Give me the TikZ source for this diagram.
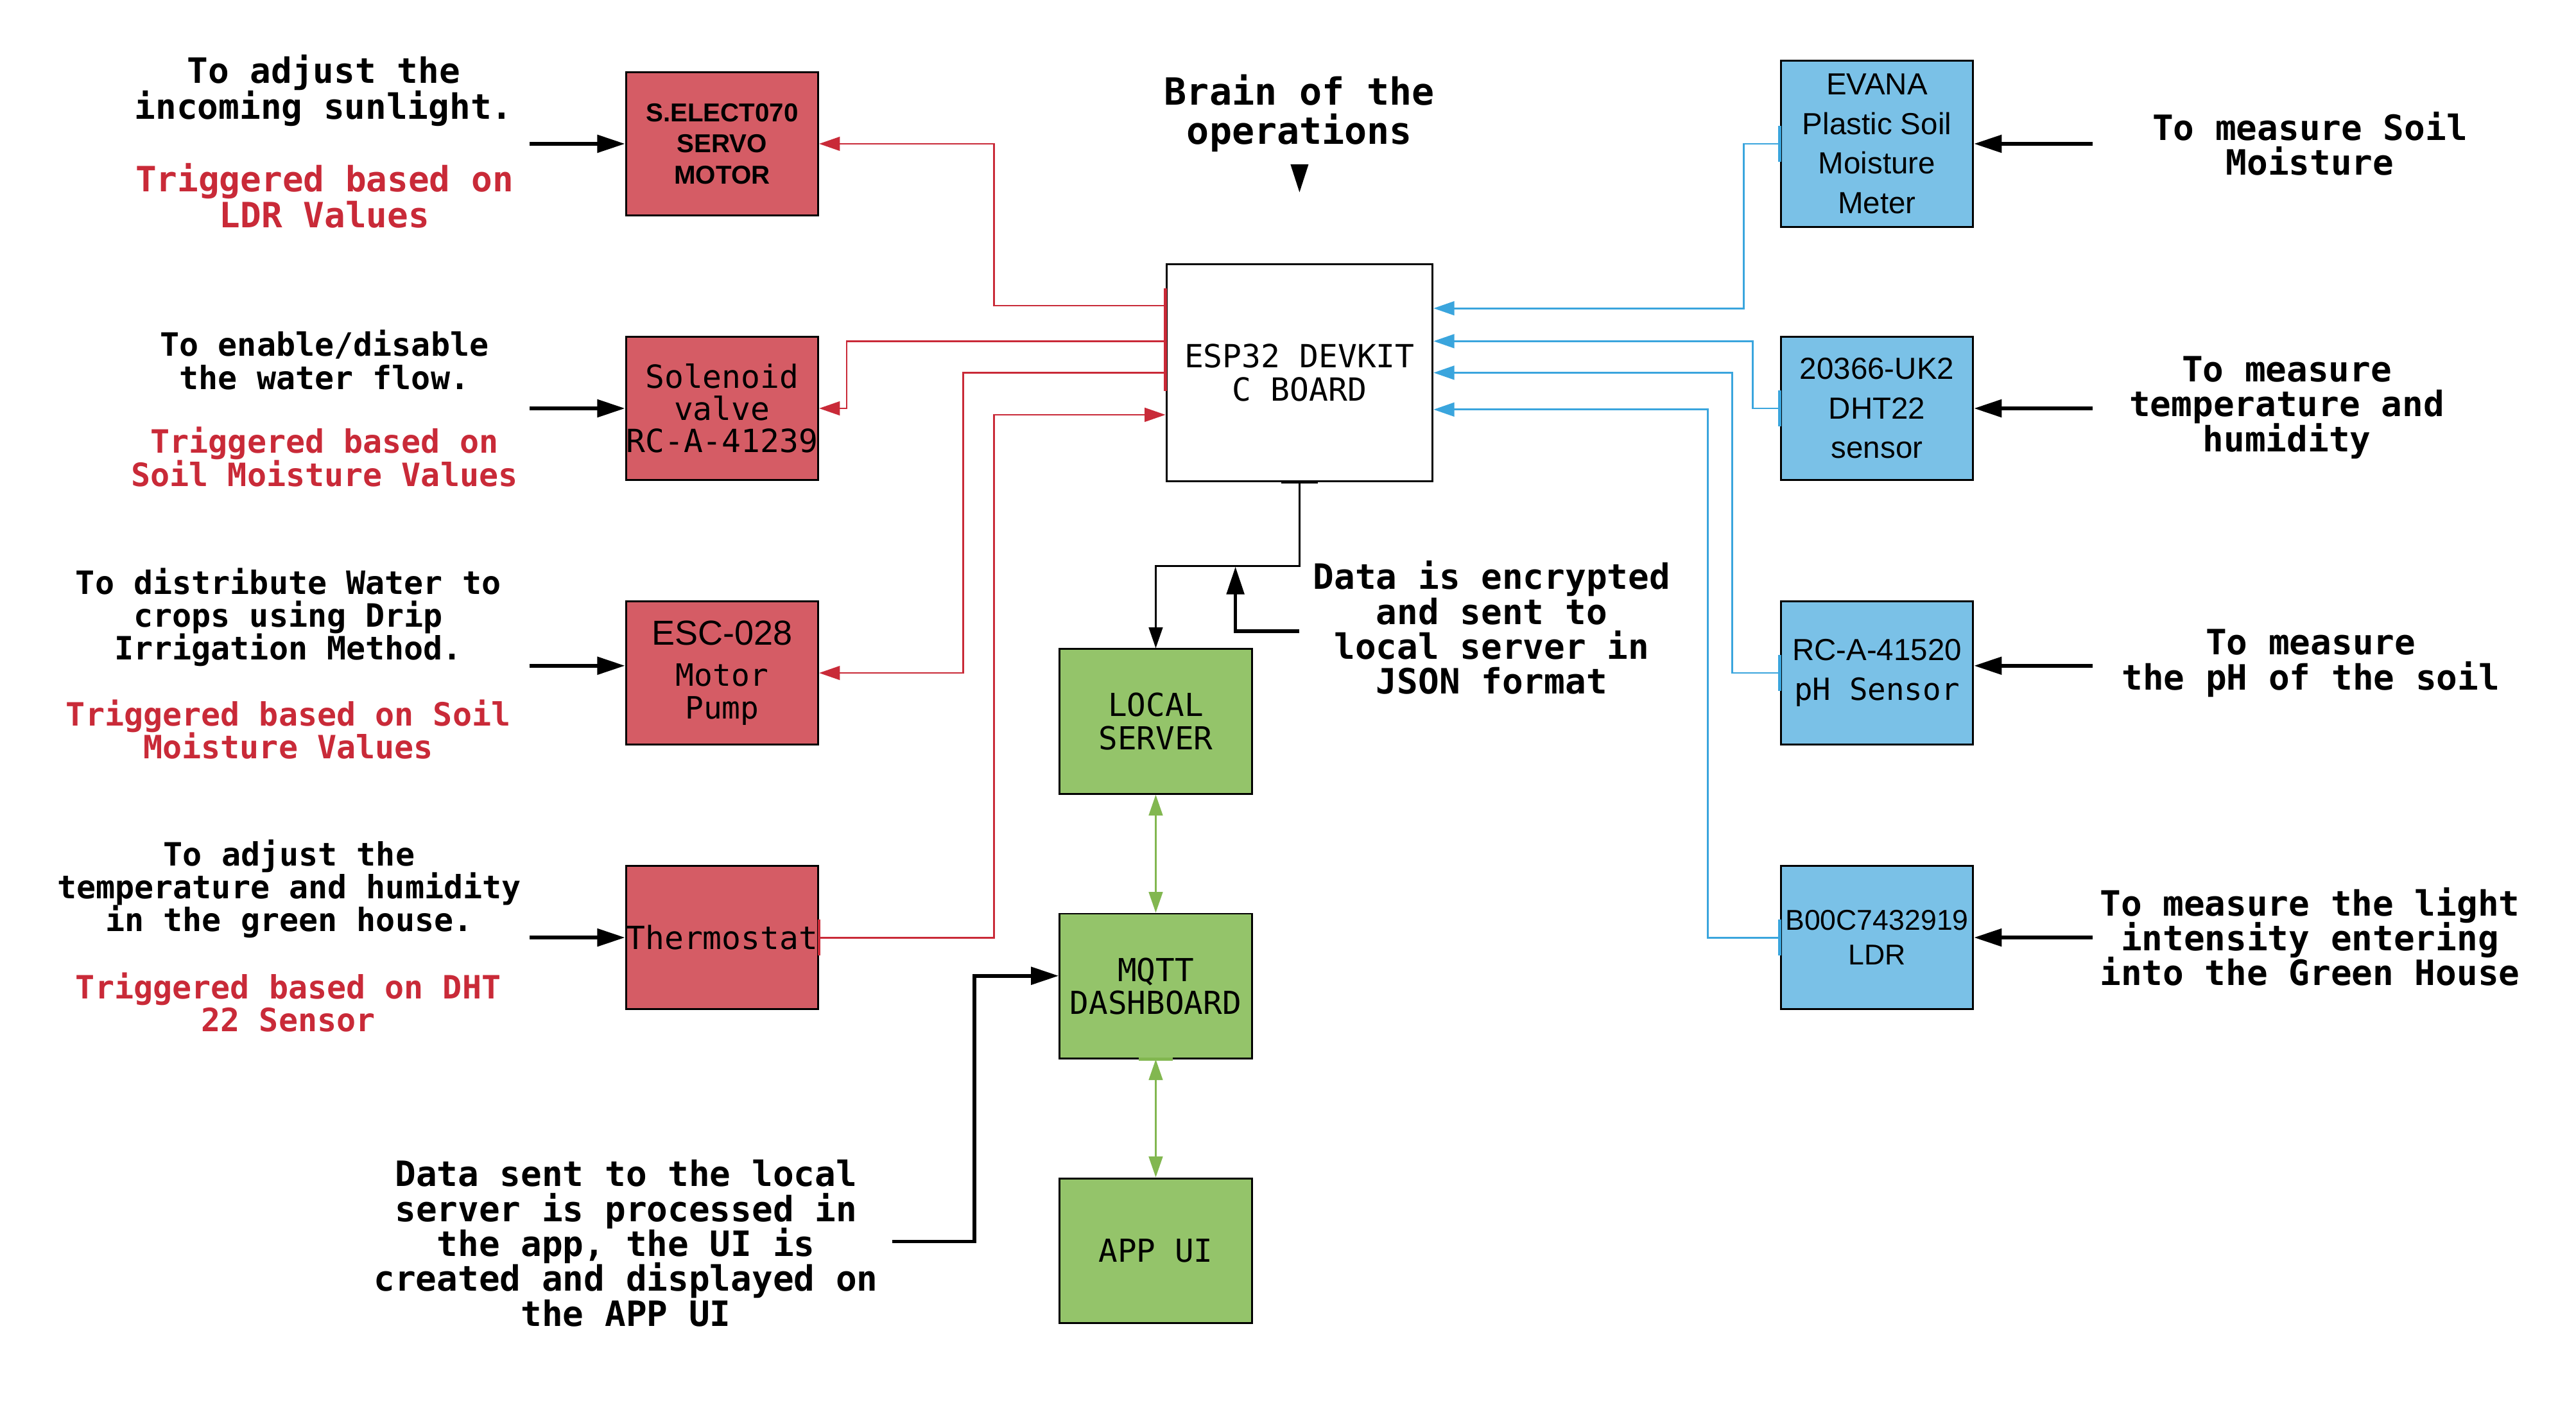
\documentclass[tikz,border=0pt]{standalone}
\usepackage{fontspec}
\setmainfont{DejaVu Sans Mono}
\setsansfont{Liberation Sans}
\setmonofont{DejaVu Sans Mono}
\usetikzlibrary{arrows.meta,positioning}
\definecolor{actred}{RGB}{213,92,101}
\definecolor{wirered}{RGB}{201,42,56}
\definecolor{sensblue}{RGB}{122,193,231}
\definecolor{wireblue}{RGB}{58,165,221}
\definecolor{netgreen}{RGB}{148,196,106}
\definecolor{wiregreen}{RGB}{130,183,80}
\newcommand\tightlines{\lineskiplimit=-100pt\relax}

\begin{document}
\begin{tikzpicture}[x=0.25mm, y=-0.25mm,
  every node/.append style={execute at begin node=\tightlines},
  box/.style={draw, line width=0.83pt, inner sep=0pt, align=center, minimum width=29.25mm, minimum height=21.75mm},
  actbox/.style={box, fill=actred, font=\ttfamily\fontsize{13.8}{13.9}\selectfont},
  sensbox/.style={box, fill=sensblue, font=\sffamily\fontsize{13.2}{17.1}\selectfont},
  netbox/.style={box, fill=netgreen, minimum height=22mm, font=\ttfamily\fontsize{13.7}{14.2}\selectfont},
  note/.style={align=center, inner sep=0pt, font=\ttfamily\bfseries\fontsize{15.1}{15.1}\selectfont},
  bignote/.style={note, font=\ttfamily\bfseries\fontsize{15.1}{15.6}\selectfont},
  smallnote/.style={note, font=\ttfamily\bfseries\fontsize{13.9}{14.2}\selectfont},
  trig/.style={text=wirered},
  wire/.style={line width=0.8pt, -{Triangle[length=9pt,width=6pt]}},
  link/.style={line width=0.8pt, wiregreen, {Triangle[length=9pt,width=6pt]}-{Triangle[length=9pt,width=6pt]}},
  fatarrow/.style={line width=1.6pt, -{Triangle[length=12pt,width=7.5pt]}},
  stub/.style={line width=1.3pt}]
  \useasboundingbox (0,0) rectangle (1568,853.4);

  % actuators
  \node[actbox, font=\sffamily\bfseries\fontsize{11.2}{13.5}\selectfont] (servo) at (439.5,87.5) {S.ELECT070\\SERVO\\MOTOR};
  \node[actbox] (valve) at (439.5,248.5) {Solenoid\\valve\\RC-A-41239};
  \node[actbox, font=\ttfamily\fontsize{13.3}{14.2}\selectfont] (pump) at (439.5,409.5) {{\sffamily\fontsize{15}{17}\selectfont ESC-028}\\[3.6pt]Motor\\Pump};
  \node[actbox] (thermo) at (439.5,570.5) {Thermostat};

  % sensors
  \node[sensbox, minimum height=25.25mm] (soil) at (1142.5,87.5) {EVANA\\Plastic Soil\\Moisture\\Meter};
  \node[sensbox] (dht) at (1142.5,248.5) {20366-UK2\\DHT22\\sensor};
  \node[sensbox] (ph) at (1142.5,409.5) {RC-A-41520\\{\ttfamily pH Sensor}};
  \node[sensbox, font=\sffamily\fontsize{12.4}{15}\selectfont] (ldr) at (1142.5,570.5) {B00C7432919\\LDR};

  \node[box, minimum width=40.5mm, minimum height=33mm, font=\ttfamily\fontsize{13.8}{14.2}\selectfont] (esp) at (791,226.8) {ESP32 DEVKIT\\C BOARD};

  \node[netbox] (server) at (703.5,439) {LOCAL\\SERVER};
  \node[netbox] (mqtt) at (703.5,600) {MQTT\\DASHBOARD};
  \node[netbox] (app) at (703.5,761) {APP UI};

  % notes
  \node[bignote] (sunnote) at (197,55) {To adjust the\\incoming sunlight.};
  \node[bignote, trig] (suntrig) at (197.5,119) {Triggered based on\\LDR Values};
  \node[smallnote] (flownote) at (197.5,219) {To enable/disable\\the water flow.};
  \node[smallnote, trig] (flowtrig) at (197.5,278) {Triggered based on\\Soil Moisture Values};
  \node[smallnote] (dripnote) at (175.5,375.5) {To distribute Water to\\crops using Drip\\Irrigation Method.};
  \node[smallnote, trig] (driptrig) at (175.5,444) {Triggered based on Soil\\Moisture Values};
  \node[smallnote] (climnote) at (176,541) {To adjust the\\temperature and humidity\\in the green house.};
  \node[smallnote, trig] (climtrig) at (175.5,610) {Triggered based on DHT\\22 Sensor};

  \node[note] (soilnote) at (1406,87.5) {To measure Soil\\Moisture};
  \node[note] (dhtnote) at (1392,248) {To measure\\temperature and\\humidity};
  \node[note] (phnote) at (1406.5,403.5) {To measure\\the pH of the soil};
  \node[note] (ldrnote) at (1406,570) {To measure the light\\intensity entering\\into the Green House};

  \node[note, font=\ttfamily\bfseries\fontsize{16.2}{17.1}\selectfont] (brain) at (791,69) {Brain of the\\operations};
  \node[note] (encnote) at (908,382) {Data is encrypted\\and sent to\\local server in\\JSON format};
  \node[note] (sentnote) at (381,756.5) {Data sent to the local\\server is processed in\\the app, the UI is\\created and displayed on\\the APP UI};

  \fill (785.5,100) -- (796.5,100) -- (791,117) -- cycle;

  % esp32 -> actuators
  \draw[wire, wirered] ([yshift=10.2mm]esp.west) -| ([xshift=26.6mm]servo.east) -- (servo.east);
  \draw[wire, wirered] ([yshift=4.8mm]esp.west) -| ([xshift=4.2mm]valve.east) -- (valve.east);
  \draw[wire, wirered] (esp.west) -| ([xshift=21.9mm]pump.east) -- (pump.east);
  \draw[wire, wirered] (thermo.east) -- ++(26.6mm,0) |- ([yshift=-6.4mm]esp.west);
  \draw[stub, wirered] ([yshift=12.8mm]esp.west) -- ([yshift=-2.8mm]esp.west);
  \draw[stub, wirered] ([yshift=2.75mm]thermo.east) -- ([yshift=-2.75mm]thermo.east);

  % sensors -> esp32
  \draw[wire, wireblue] (soil.west) -- ++(-5.5mm,0) |- ([yshift=9.8mm]esp.east);
  \draw[wire, wireblue] (dht.west) -- ++(-4.1mm,0) |- ([yshift=4.8mm]esp.east);
  \draw[wire, wireblue] (ph.west) -- ++(-7.25mm,0) |- (esp.east);
  \draw[wire, wireblue] (ldr.west) -- ++(-11mm,0) |- ([yshift=-5.6mm]esp.east);
  \foreach \s in {soil,dht,ph,ldr}
    \draw[stub, wireblue] ([yshift=2.75mm]\s.west) -- ([yshift=-2.75mm]\s.west);

  % esp32 -> server -> dashboard -> app
  \draw[wire] (esp.south) -- ++(0,-12.8mm) -| (server.north);
  \draw[stub] ([xshift=-2.75mm]esp.south) -- ([xshift=2.75mm]esp.south);
  \draw[link] (server.south) -- (mqtt.north);
  \draw[link] (mqtt.south) -- (app.north);
  \draw[stub, wiregreen] ([xshift=-2.6mm]mqtt.south) -- ([xshift=2.6mm]mqtt.south);

  % note arrows
  \draw[fatarrow] ([xshift=-14.5mm]servo.west) -- (servo.west);
  \draw[fatarrow] ([xshift=-14.5mm]valve.west) -- (valve.west);
  \draw[fatarrow] ([xshift=-14.5mm,yshift=1.1mm]pump.west) -- ([yshift=1.1mm]pump.west);
  \draw[fatarrow] ([xshift=-14.5mm]thermo.west) -- (thermo.west);
  \draw[fatarrow] ([xshift=18mm]soil.east) -- (soil.east);
  \draw[fatarrow] ([xshift=18mm]dht.east) -- (dht.east);
  \draw[fatarrow] ([xshift=18mm,yshift=1.1mm]ph.east) -- ([yshift=1.1mm]ph.east);
  \draw[fatarrow] ([xshift=18mm]ldr.east) -- (ldr.east);

  \coordinate (encfoot) at (791,384);
  \draw[fatarrow] (encfoot) -- ++(-9.75mm,0) -- ++(0,9.8mm);
  \coordinate (sentfoot) at (543,755.5);
  \draw[fatarrow] (sentfoot) -- ++(12.5mm,0) |- ([yshift=1.55mm]mqtt.west);
\end{tikzpicture}
\end{document}
